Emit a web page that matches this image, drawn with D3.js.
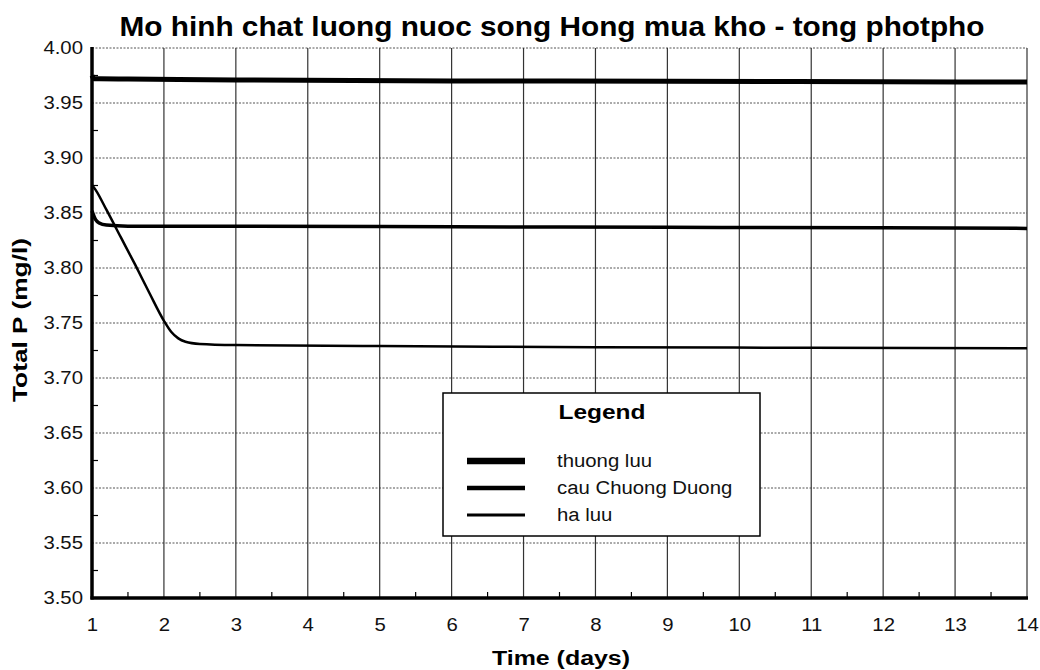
<!DOCTYPE html>
<html>
<head>
<meta charset="utf-8">
<script src="https://cdn.jsdelivr.net/npm/d3@7"></script>
<style>
  html, body { margin: 0; padding: 0; background: #fff; }
  svg { display: block; font-family: "Liberation Sans", Arial, sans-serif; }
</style>
</head>
<body>
<svg id="chart" width="1040" height="670"></svg>
<script>
// ---- data ----
const chartTitle = "Mo hinh chat luong nuoc song Hong mua kho - tong photpho";
const xTitle = "Time (days)";
const yTitle = "Total P (mg/l)";
const xTicks = [1,2,3,4,5,6,7,8,9,10,11,12,13,14];
const yTicks = [3.50,3.55,3.60,3.65,3.70,3.75,3.80,3.85,3.90,3.95,4.00];
const seriesNames = ["thuong luu", "cau Chuong Duong", "ha luu"];

const thuongLuuT = [1, 1.03, 1.1, 1.5, 3, 6, 9, 12, 14];
const thuongLuuV = [3.975, 3.972, 3.972, 3.9718, 3.971, 3.970, 3.9698, 3.9693, 3.969];

const cauChuongDuongT = [1, 1.05, 1.1, 1.2, 1.5, 2, 3, 6, 9, 12, 14];
const cauChuongDuongV = [3.852, 3.844, 3.841, 3.839, 3.838, 3.838, 3.838, 3.8375, 3.837, 3.8365, 3.836];

const haLuuT = [1, 1.05, 1.2, 1.4, 1.6, 1.8, 2.0, 2.1, 2.2, 2.3, 2.5, 3, 5, 8, 11, 14];
const haLuuV = [3.8755, 3.871, 3.853, 3.828, 3.803, 3.777, 3.752, 3.742, 3.736, 3.733, 3.731, 3.730, 3.729, 3.728, 3.7275, 3.727];

// ---- layout ----
const W = 1040, H = 670;
const m = {left: 92, right: 13, top: 48, bottom: 72};
const stretch = 1.13;
const svg = d3.select("#chart");
svg.append("rect").attr("width", W).attr("height", H).attr("fill", "#fff");

function widen(sel) {
  sel.each(function() {
    const w = this.getComputedTextLength();
    d3.select(this).attr("textLength", w * stretch).attr("lengthAdjust", "spacingAndGlyphs");
  });
}

const x = d3.scaleLinear().domain([1, 14]).range([m.left, W - m.right]);
const y = d3.scaleLinear().domain([3.5, 4.0]).range([H - m.bottom, m.top]);

const g = svg.append("g");

// grid
g.append("g").selectAll("line").data(yTicks).join("line")
  .attr("x1", x(1)).attr("x2", x(14))
  .attr("y1", d => y(d)).attr("y2", d => y(d))
  .attr("stroke", "#555").attr("stroke-width", 1).attr("stroke-dasharray", "2,1.5");
g.append("g").selectAll("line").data(xTicks).join("line")
  .attr("x1", d => x(d)).attr("x2", d => x(d))
  .attr("y1", y(3.5)).attr("y2", y(4.0))
  .attr("stroke", "#333").attr("stroke-width", 1.2);

// minor ticks
const yMinor = d3.range(3.525, 4.0, 0.05);
g.append("g").selectAll("line").data(yMinor).join("line")
  .attr("x1", x(1)).attr("x2", x(1) + 6)
  .attr("y1", d => y(d)).attr("y2", d => y(d))
  .attr("stroke", "#000").attr("stroke-width", 1.2);
const xMinor = d3.range(1.5, 14, 1);
g.append("g").selectAll("line").data(xMinor).join("line")
  .attr("x1", d => x(d)).attr("x2", d => x(d))
  .attr("y1", y(3.5)).attr("y2", y(3.5) - 6)
  .attr("stroke", "#000").attr("stroke-width", 1.2);

// axes
const yAxis = d3.axisLeft(y).tickValues(yTicks).tickFormat(d3.format(".2f")).tickSize(0).tickPadding(9);
const yg = svg.append("g").attr("transform", `translate(${m.left},0)`).call(yAxis);
yg.select(".domain").remove();
yg.selectAll("text").attr("font-size", 18).attr("fill", "#111").attr("font-family", "Liberation Sans, Arial, sans-serif").call(widen);

const xAxis = d3.axisBottom(x).tickValues(xTicks).tickFormat(d3.format("d")).tickSize(0).tickPadding(20);
const xg = svg.append("g").attr("transform", `translate(0,${H - m.bottom})`).call(xAxis);
xg.select(".domain").remove();
xg.selectAll("text").attr("font-size", 18).attr("fill", "#111").attr("font-family", "Liberation Sans, Arial, sans-serif").call(widen);

svg.append("line").attr("x1", x(1)).attr("x2", x(1)).attr("y1", y(4.0) - 1).attr("y2", y(3.5) + 1.5)
  .attr("stroke", "#000").attr("stroke-width", 3.5);
svg.append("line").attr("x1", x(1) - 1.5).attr("x2", x(14) + 1).attr("y1", y(3.5)).attr("y2", y(3.5))
  .attr("stroke", "#000").attr("stroke-width", 3.5);

// lines
const line = d3.line().x(d => x(d[0])).y(d => y(d[1])).curve(d3.curveMonotoneX);
const series = [
  {name: seriesNames[0], t: thuongLuuT, v: thuongLuuV, w: 5},
  {name: seriesNames[1], t: cauChuongDuongT, v: cauChuongDuongV, w: 3.5},
  {name: seriesNames[2], t: haLuuT, v: haLuuV, w: 2.5}
];
svg.append("g").selectAll("path").data(series).join("path")
  .attr("d", s => line(s.t.map((t, i) => [t, s.v[i]])))
  .attr("fill", "none").attr("stroke", "#000").attr("stroke-width", s => s.w)
  .attr("stroke-linejoin", "round");

// titles
svg.append("text").attr("x", 552).attr("y", 36).attr("text-anchor", "middle")
  .attr("font-size", 28).attr("font-weight", "bold").attr("fill", "#000")
  .attr("textLength", 865).attr("lengthAdjust", "spacingAndGlyphs")
  .text(chartTitle);
svg.append("text").attr("x", 561).attr("y", 665).attr("text-anchor", "middle")
  .attr("font-size", 20).attr("font-weight", "bold").attr("fill", "#000")
  .attr("textLength", 138).attr("lengthAdjust", "spacingAndGlyphs")
  .text(xTitle);
svg.append("text").attr("transform", "translate(27,320) rotate(-90)").attr("text-anchor", "middle")
  .attr("font-size", 20).attr("font-weight", "bold").attr("fill", "#000")
  .attr("textLength", 164).attr("lengthAdjust", "spacingAndGlyphs")
  .text(yTitle);

// legend
const lg = svg.append("g");
lg.append("rect").attr("x", 443).attr("y", 393).attr("width", 317).attr("height", 143)
  .attr("fill", "#fff").attr("stroke", "#000").attr("stroke-width", 1.5);
lg.append("text").attr("x", 602).attr("y", 419).attr("text-anchor", "middle")
  .attr("font-size", 20).attr("font-weight", "bold")
  .attr("textLength", 87).attr("lengthAdjust", "spacingAndGlyphs").text("Legend");
const rowsY = [461, 488, 515];
const legendW = [6.5, 4.5, 2.8];
series.forEach((s, i) => {
  lg.append("line").attr("x1", 467).attr("x2", 525).attr("y1", rowsY[i]).attr("y2", rowsY[i])
    .attr("stroke", "#000").attr("stroke-width", legendW[i]);
  lg.append("text").attr("x", 557).attr("y", rowsY[i] + 6).attr("font-size", 18)
    .attr("fill", "#111").text(s.name).call(widen);
});
</script>
</body>
</html>
